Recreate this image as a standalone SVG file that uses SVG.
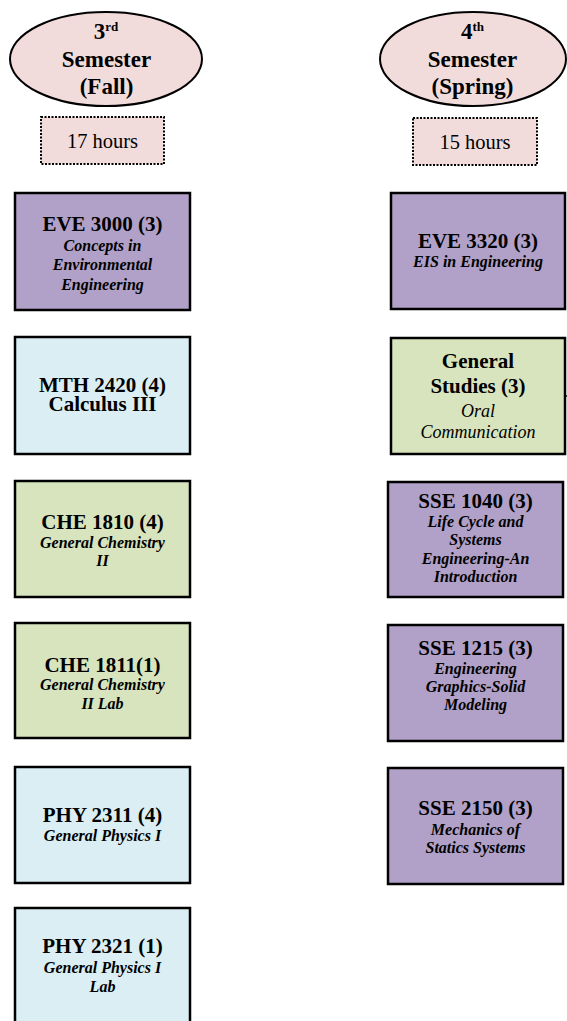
<svg xmlns="http://www.w3.org/2000/svg" width="567" height="1021" viewBox="0 0 567 1021">
<style>
.box{stroke:#000;stroke-width:2.5}
.p{fill:#b1a0c7}.b{fill:#daeef3}.g{fill:#d7e4bd}
.ell{fill:#f2dcdb;stroke:#000;stroke-width:2}
.hrs{fill:#f2dcdb;stroke:#000;stroke-width:2;stroke-dasharray:2 1.5}
text{font-family:"Liberation Serif","Times New Roman",serif;fill:#000;text-anchor:middle}
.t{font-size:21px;font-weight:bold}
.h{font-size:23px;font-weight:bold}
.s{font-size:16px;font-weight:bold;font-style:italic}
.i{font-size:18px;font-style:italic}
.n{font-size:20.5px}
.sup{font-size:13px;font-weight:bold}
</style>
<g id="sem3">
<ellipse class="ell" cx="106" cy="59" rx="96" ry="47"/>
<text class="h" x="106" y="38.5">3<tspan class="sup" dy="-8">rd</tspan></text>
<text class="h" x="106.5" y="66.5">Semester</text>
<text class="h" x="106.5" y="93.5">(Fall)</text>
</g>
<g id="hours3">
<rect class="hrs" x="41" y="117" width="123" height="47"/>
<text class="n" x="102.5" y="148">17 hours</text>
</g>
<g id="sem4">
<ellipse class="ell" cx="473" cy="59" rx="93" ry="47"/>
<text class="h" x="472.5" y="38.5">4<tspan class="sup" dy="-8">th</tspan></text>
<text class="h" x="472.5" y="66.5">Semester</text>
<text class="h" x="472.5" y="93.5">(Spring)</text>
</g>
<g id="hours4">
<rect class="hrs" x="413" y="118" width="124" height="47"/>
<text class="n" x="475" y="149">15 hours</text>
</g>
<g id="eve3000">
<rect class="box p" x="15" y="193" width="175" height="117"/>
<text class="t" x="102.5" y="231">EVE 3000 (3)</text>
<text class="s" x="102.5" y="250.5">Concepts in</text>
<text class="s" x="102.5" y="270">Environmental</text>
<text class="s" x="102.5" y="289.5">Engineering</text>
</g>
<g id="mth2420">
<rect class="box b" x="15" y="337" width="175" height="117"/>
<text class="t" x="102.5" y="391.5">MTH 2420 (4)</text>
<text class="t" x="102.5" y="411">Calculus III</text>
</g>
<g id="che1810">
<rect class="box g" x="15" y="481" width="175" height="116"/>
<text class="t" x="102.5" y="529">CHE 1810 (4)</text>
<text class="s" x="102.5" y="547.5">General Chemistry</text>
<text class="s" x="102.5" y="566">II</text>
</g>
<g id="che1811">
<rect class="box g" x="15" y="623" width="175" height="115"/>
<text class="t" x="102.5" y="671.5">CHE 1811(1)</text>
<text class="s" x="102.5" y="690">General Chemistry</text>
<text class="s" x="102.5" y="708.5">II Lab</text>
</g>
<g id="phy2311">
<rect class="box b" x="15" y="767" width="175" height="116"/>
<text class="t" x="102.5" y="821.5">PHY 2311 (4)</text>
<text class="s" x="102.5" y="841">General Physics I</text>
</g>
<g id="phy2321">
<rect class="box b" x="15" y="908" width="175" height="118"/>
<text class="t" x="102.5" y="953">PHY 2321 (1)</text>
<text class="s" x="102.5" y="973">General Physics I</text>
<text class="s" x="102.5" y="991.5">Lab</text>
</g>
<g id="eve3320">
<rect class="box p" x="391" y="193" width="174" height="116"/>
<text class="t" x="478" y="248">EVE 3320 (3)</text>
<text class="s" x="478" y="267">EIS in Engineering</text>
</g>
<g id="genstudies">
<rect class="box g" x="391" y="338" width="174" height="116"/>
<text class="t" x="478" y="368">General</text>
<text class="t" x="478" y="393">Studies (3)</text>
<text class="i" x="478" y="416.5">Oral</text>
<text class="i" x="478" y="437.5">Communication</text>
</g>
<g id="sse1040">
<rect class="box p" x="388" y="482" width="175" height="115"/>
<text class="t" x="475.5" y="508">SSE 1040 (3)</text>
<text class="s" x="475.5" y="526.5">Life Cycle and</text>
<text class="s" x="475.5" y="545">Systems</text>
<text class="s" x="475.5" y="563.5">Engineering-An</text>
<text class="s" x="475.5" y="582">Introduction</text>
</g>
<g id="sse1215">
<rect class="box p" x="388" y="625" width="175" height="116"/>
<text class="t" x="475.5" y="655">SSE 1215 (3)</text>
<text class="s" x="475.5" y="673.5">Engineering</text>
<text class="s" x="475.5" y="692">Graphics-Solid</text>
<text class="s" x="475.5" y="710">Modeling</text>
</g>
<g id="sse2150">
<rect class="box p" x="388" y="768" width="175" height="116"/>
<text class="t" x="475.5" y="815">SSE 2150 (3)</text>
<text class="s" x="475.5" y="834.5">Mechanics of</text>
<text class="s" x="475.5" y="852.5">Statics Systems</text>
</g>
<g id="connectors">
<line x1="565" y1="396" x2="567" y2="396" stroke="#000" stroke-width="1.5"/>
</g>
</svg>
